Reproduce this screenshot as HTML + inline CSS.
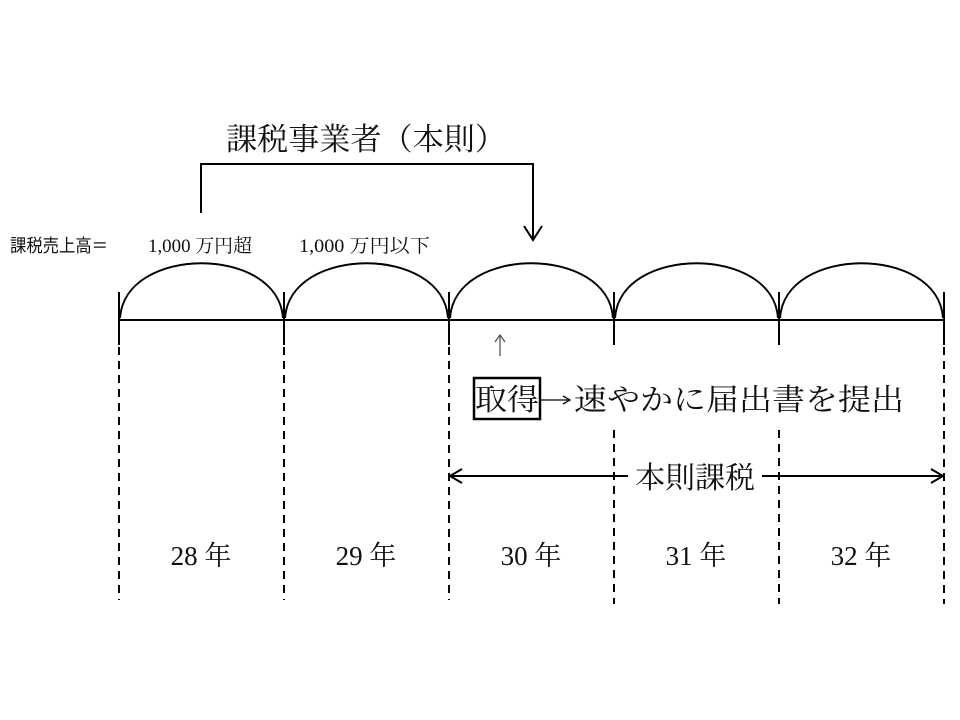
<!DOCTYPE html>
<html><head><meta charset="utf-8"><style>
html,body{margin:0;padding:0;background:#fff;}
svg{display:block;}
text{font-family:"Liberation Serif","Noto Serif CJK JP","Noto Serif CJK SC",serif;fill:#111;}
.g{font-family:"Liberation Sans","Noto Sans CJK JP",sans-serif;}
</style></head><body>
<svg width="960" height="720" viewBox="0 0 960 720" xmlns="http://www.w3.org/2000/svg">
<g stroke="#000" fill="none" stroke-width="2">
  <path d="M201 213 V164 H533 V238"/>
  <path d="M524 226 L533 240 L542 226"/>
  <line x1="119" y1="320" x2="944" y2="320"/>
  <line x1="119" y1="292" x2="119" y2="345"/>
  <line x1="284" y1="292" x2="284" y2="345"/>
  <line x1="449" y1="292" x2="449" y2="345"/>
  <line x1="614" y1="292" x2="614" y2="345"/>
  <line x1="779" y1="292" x2="779" y2="345"/>
  <line x1="944" y1="292" x2="944" y2="345"/>
  <path d="M120 318 C125 245 278 245 283 318"/>
  <path d="M285 318 C290 245 443 245 448 318"/>
  <path d="M450 318 C455 245 608 245 613 318"/>
  <path d="M615 318 C620 245 773 245 778 318"/>
  <path d="M780 318 C785 245 938 245 943 318"/>
  <g stroke-dasharray="8,6">
    <line x1="119" y1="347" x2="119" y2="600"/>
    <line x1="284" y1="347" x2="284" y2="600"/>
    <line x1="449" y1="347" x2="449" y2="600"/>
    <line x1="614" y1="430" x2="614" y2="604"/>
    <line x1="779" y1="430" x2="779" y2="604"/>
    <line x1="944" y1="347" x2="944" y2="604"/>
  </g>
  <line x1="450" y1="476" x2="943" y2="476"/>
  <path d="M462 469 L450 476 L462 483"/>
  <path d="M931 469 L943 476 L931 483"/>
  <rect x="474" y="378" width="66" height="41" stroke-width="2.5"/>
  <line x1="541" y1="400" x2="570" y2="400" stroke-width="1.3"/>
  <path d="M563 396 L570 400 L563 404" stroke-width="1.3"/>
  <line x1="500" y1="336" x2="500" y2="356" stroke="#555" stroke-width="1.3"/>
  <path d="M495 342 L500 335 L505 342" stroke="#555" stroke-width="1.3"/>
</g>
<rect x="628" y="460" width="134" height="32" fill="#fff"/>
<text x="226" y="150" font-size="31" textLength="280" lengthAdjust="spacingAndGlyphs">課税事業者（本則）</text>
<text class="g" x="10" y="252" font-size="18" textLength="98" lengthAdjust="spacingAndGlyphs">課税売上高＝</text>
<text x="148" y="252" font-size="19" textLength="104" lengthAdjust="spacingAndGlyphs">1,000 万円超</text>
<text x="299" y="252" font-size="19" textLength="131" lengthAdjust="spacingAndGlyphs">1,000 万円以下</text>
<text x="475" y="410" font-size="30" textLength="64" lengthAdjust="spacingAndGlyphs">取得</text>
<text x="574" y="410" font-size="30" textLength="330" lengthAdjust="spacingAndGlyphs">速やかに届出書を提出</text>
<text x="695" y="488" font-size="30" text-anchor="middle">本則課税</text>
<g font-size="27" text-anchor="middle">
  <text x="201" y="565">28 年</text>
  <text x="366" y="565">29 年</text>
  <text x="531" y="565">30 年</text>
  <text x="696" y="565">31 年</text>
  <text x="861" y="565">32 年</text>
</g>
</svg>
</body></html>
